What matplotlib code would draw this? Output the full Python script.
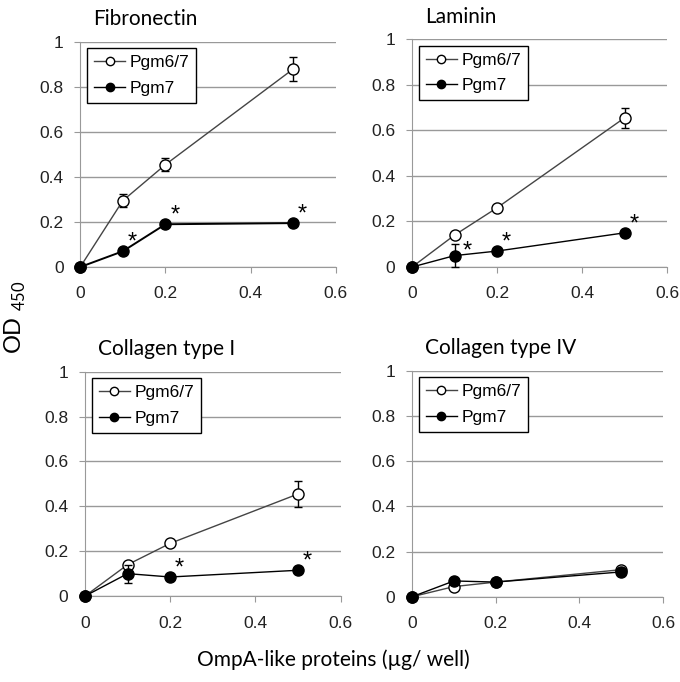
import matplotlib
matplotlib.use('Agg')
import matplotlib.pyplot as plt
from matplotlib.lines import Line2D

plt.rcParams['font.family'] = ['Liberation Sans', 'DejaVu Sans']

# protein amount per well
doses = [0, 0.1, 0.2, 0.5]

titles = ['Fibronectin', 'Laminin', 'Collagen type I', 'Collagen type IV']

# Pgm6/7 (open circles)
pgm67 = [[0, 0.295, 0.455, 0.88],
         [0, 0.14, 0.26, 0.655],
         [0, 0.14, 0.235, 0.455],
         [0, 0.045, 0.065, 0.12]]
pgm67_err = [[0, 0.03, 0.03, 0.055],
             [0, 0.01, 0.01, 0.045],
             [0, 0.01, 0.01, 0.06],
             [0, 0.005, 0.005, 0.01]]

# Pgm7 (filled circles)
pgm7 = [[0, 0.07, 0.19, 0.195],
        [0, 0.05, 0.07, 0.15],
        [0, 0.10, 0.085, 0.115],
        [0, 0.07, 0.065, 0.11]]
pgm7_err = [[0, 0.01, 0.01, 0.01],
            [0, 0.05, 0.01, 0.01],
            [0, 0.04, 0.01, 0.01],
            [0, 0.005, 0.005, 0.005]]

# which Pgm7 points carry an asterisk
stars = [[0.1, 0.2, 0.5], [0.1, 0.2, 0.5], [0.2, 0.5], []]

fig = plt.figure(figsize=(6.8, 6.82), dpi=100)

boxes = [[0.118, 0.6085, 0.376, 0.330],
         [0.606, 0.6085, 0.375, 0.334],
         [0.125, 0.126, 0.376, 0.329],
         [0.606, 0.125, 0.369, 0.331]]

for i in range(4):
    ax = fig.add_axes(boxes[i])
    ax.errorbar(doses, pgm67[i], yerr=pgm67_err[i], fmt='-o', color='#444444',
                lw=1, mfc='white', mec='black', mew=1, ms=8,
                ecolor='black', elinewidth=1, capsize=3, zorder=3)
    ax.errorbar(doses, pgm7[i], yerr=pgm7_err[i], fmt='-o', color='black',
                lw=1.4 if i == 0 else 1, mfc='black', mec='black', ms=8,
                ecolor='black', elinewidth=1, capsize=3, zorder=4)
    for s in stars[i]:
        k = doses.index(s)
        dx, dy = 0.022, -0.012
        if i == 1 and s == 0.1:
            dx, dy = 0.03, -0.03
        ax.text(s + dx, pgm7[i][k] + dy, '*', fontsize=17, ha='center', va='bottom')

    ax.set_xlim(0, 0.6)
    ax.set_ylim(0, 1)
    ax.set_xticks([0, 0.2, 0.4, 0.6])
    ax.set_xticklabels(['0', '0.2', '0.4', '0.6'])
    ax.set_yticks([0, 0.2, 0.4, 0.6, 0.8, 1])
    ax.set_yticklabels(['0', '0.2', '0.4', '0.6', '0.8', '1'])
    ax.yaxis.grid(True, color='#999999', lw=1)
    ax.set_axisbelow(True)
    for sp in ['top', 'right']:
        ax.spines[sp].set_visible(False)
    for sp in ['left', 'bottom']:
        ax.spines[sp].set_color('#999999')
    ax.tick_params(colors='#999999', labelcolor='#222222', labelsize=12.5)
    ax.tick_params(axis='x', length=4, pad=10)
    ax.tick_params(axis='y', length=4, pad=8)
    ax.set_title(titles[i], fontsize=15, family='Lato', loc='left', x=0.05, pad=12)
    for ln in ax.get_lines():
        ln.set_clip_on(False)

    handles = [Line2D([], [], color='#444444', lw=1, marker='o', mfc='white',
                      mec='black', ms=6),
               Line2D([], [], color='black', lw=1, marker='o', mfc='black',
                      mec='black', ms=6)]
    leg = ax.legend(handles, ['Pgm6/7', 'Pgm7'], loc='upper left',
                    bbox_to_anchor=(0.02, 0.98), fontsize=12.5,
                    fancybox=False, edgecolor='black', framealpha=1,
                    handlelength=1.8, handletextpad=0.25,
                    borderpad=0.4, labelspacing=0.6, borderaxespad=0.1)
    leg.get_frame().set_linewidth(1)

fig.text(0.022, 0.535, r'OD $_{\mathregular{450}}$', rotation=90, fontsize=17,
         family='Lato', ha='center', va='center')
fig.text(0.49, 0.032, 'OmpA-like proteins (µg/ well)', fontsize=15,
         family='Lato', ha='center', va='center')

fig.savefig('out.png', dpi=100)
